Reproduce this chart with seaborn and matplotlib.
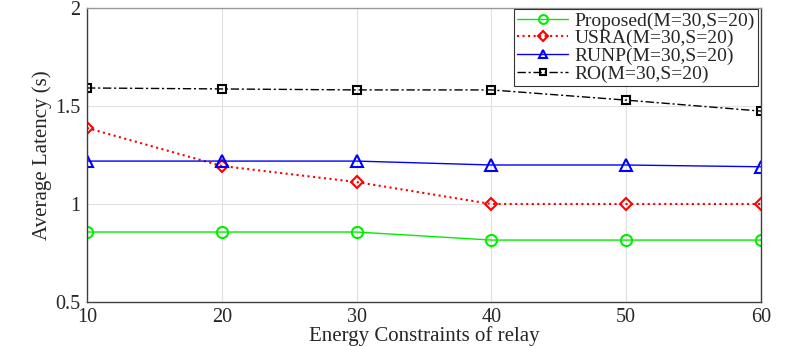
import matplotlib
matplotlib.use("Agg")
import matplotlib.pyplot as plt
import seaborn as sns
import pandas as pd

energy = [10, 20, 30, 40, 50, 60]
proposed = [0.857, 0.857, 0.857, 0.816, 0.816, 0.816]
usra = [1.388, 1.194, 1.112, 1.0, 1.0, 1.0]
runp = [1.219, 1.219, 1.219, 1.199, 1.199, 1.19]
ro = [1.592, 1.587, 1.582, 1.582, 1.53, 1.474]
labels = ["Proposed(M=30,S=20)", "USRA(M=30,S=20)", "RUNP(M=30,S=20)", "RO(M=30,S=20)"]

sns.set_style("whitegrid")
plt.rcParams['font.family'] = ['Liberation Serif', 'DejaVu Serif']

fig = plt.figure(figsize=(7.89, 3.46), dpi=100)
ax = fig.add_axes([87/789, 1 - 302/346, (761-87)/789, (302-8)/346])

styles = [
    dict(color="#00ee00", linestyle="-", marker="o", lw=1.0),
    dict(color="#ff0000", linestyle=":", marker="D", lw=1.5, markersize=6),
    dict(color="#0000ff", linestyle="-", marker="^", lw=1.0),
    dict(color="#000000", linestyle=(0, (6, 2, 1.5, 2)), marker="s", lw=1.0, markersize=6),
]
for vals, lab, st in zip([proposed, usra, runp, ro], labels, styles):
    df = pd.DataFrame({"x": energy, "y": vals})
    ms = st.pop("markersize", 8)
    sns.lineplot(data=df, x="x", y="y", ax=ax, label=lab, markersize=ms,
                 markerfacecolor="none", markeredgecolor=st["color"], markeredgewidth=1.5,
                 **st)

ax.set_xlim(10, 60)
ax.set_ylim(0.5, 2)
ax.set_xticks(energy)
ax.set_yticks([0.5, 1, 1.5, 2])
ax.set_yticklabels(["0.5", "1", "1.5", "2"])
ax.tick_params(labelsize=14.5, length=4, direction="in", colors="#262626")
ax.tick_params(axis="x", pad=4)
ax.tick_params(axis="y", pad=5)
ax.set_xlabel("Energy Constraints of relay", fontsize=15, labelpad=0)
ax.set_ylabel("Average Latency (s)", fontsize=15, labelpad=2)
ax.grid(True, color="#e0e0e0", lw=0.8)
for s in ax.spines.values():
    s.set_visible(True)
    s.set_color("#404040")
    s.set_linewidth(1.0)
ax.spines["top"].set_color("#999999")

leg = ax.legend(loc="upper right", bbox_to_anchor=(0.997, 1.0), fontsize=14, frameon=True,
                fancybox=False, edgecolor="#333333", framealpha=1, borderpad=0.15,
                labelspacing=0.0, handlelength=2.6, borderaxespad=0.05,
                handletextpad=0.35, markerscale=0.8)
leg.get_frame().set_linewidth(0.8)

fig.savefig("out.png", dpi=100)
